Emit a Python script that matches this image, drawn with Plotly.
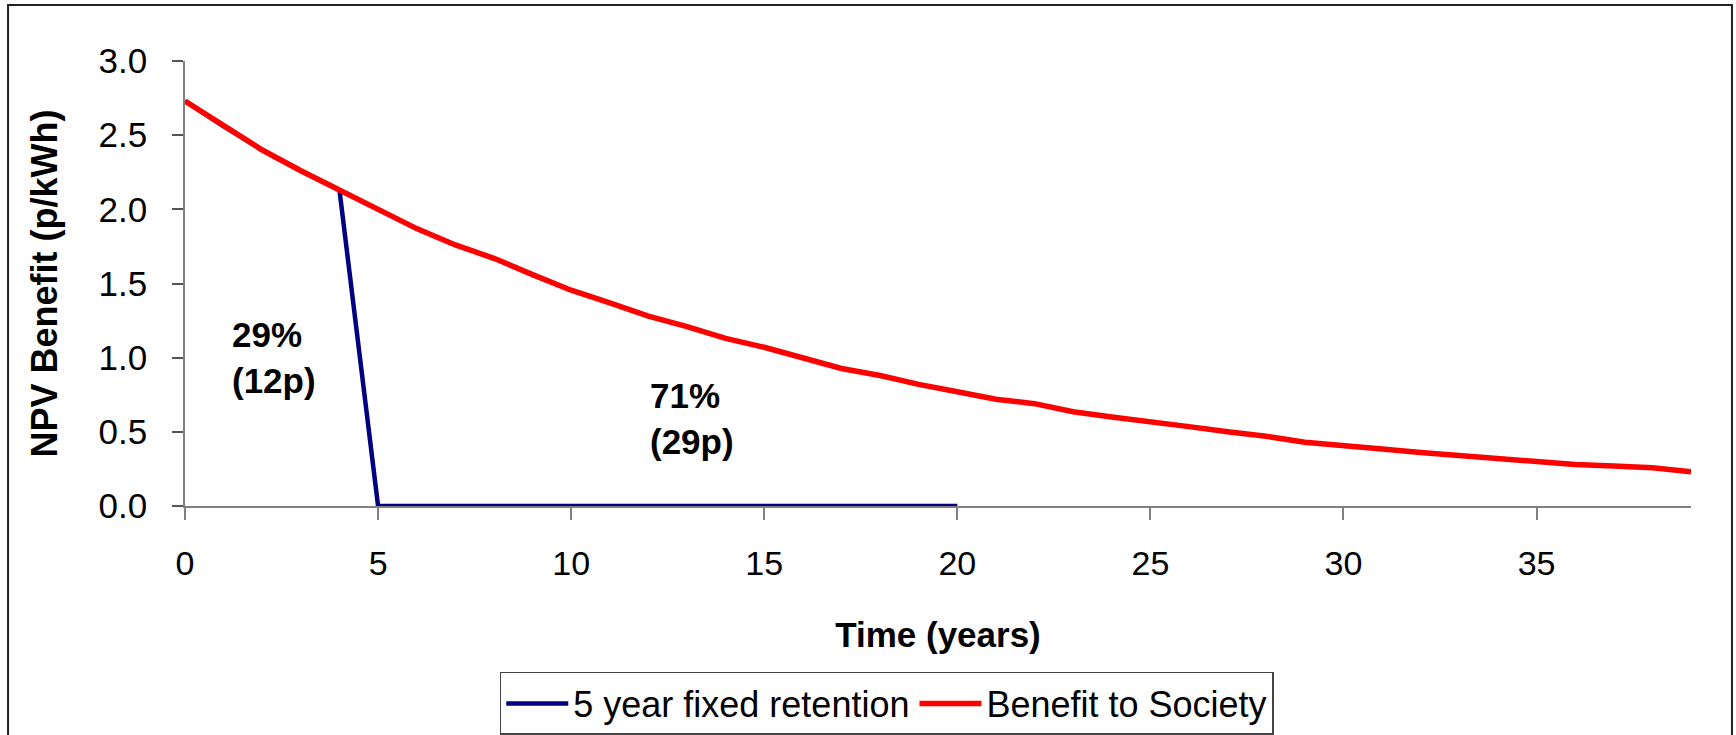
import plotly.graph_objects as go

# ---- data ----
years_society = list(range(0, 40))
benefit_society = [2.73, 2.56, 2.40, 2.26, 2.13, 1.99, 1.87, 1.76, 1.67, 1.56,
                   1.455, 1.37, 1.28, 1.21, 1.13, 1.07, 1.00, 0.927, 0.88, 0.82,
                   0.77, 0.72, 0.69, 0.635, 0.60, 0.57, 0.535, 0.50, 0.47, 0.43,
                   0.41, 0.385, 0.36, 0.34, 0.325, 0.30, 0.28, 0.27, 0.258, 0.23]

years_retention = list(range(0, 21))
benefit_retention = [2.73, 2.56, 2.40, 2.26, 2.13, 0, 0, 0, 0, 0,
                     0, 0, 0, 0, 0, 0, 0, 0, 0, 0, 0]

x_ticks = [0, 5, 10, 15, 20, 25, 30, 35]
y_ticks = [0.0, 0.5, 1.0, 1.5, 2.0, 2.5, 3.0]

label_left = "<b>29%<br>(12p)</b>"
label_right = "<b>71%<br>(29p)</b>"

FONT = "Liberation Sans, Arial, sans-serif"

fig = go.Figure()
fig.add_trace(go.Scatter(x=years_retention, y=benefit_retention, mode="lines",
                         name="5 year fixed retention",
                         line=dict(color="#000080", width=4.5)))
fig.add_trace(go.Scatter(x=years_society, y=benefit_society, mode="lines",
                         name="Benefit to Society",
                         line=dict(color="#FF0000", width=5.5)))

fig.add_annotation(x=1.17, y=1.0, xref="x", yref="y", text=label_left,
                   showarrow=False, xanchor="left", yanchor="middle", align="left",
                   font=dict(family=FONT, size=35, color="black"))
fig.add_annotation(x=12.0, y=0.59, xref="x", yref="y", text=label_right,
                   showarrow=False, xanchor="left", yanchor="middle", align="left",
                   font=dict(family=FONT, size=35, color="black"))

# outer chart border
fig.add_shape(type="rect", xref="paper", yref="paper",
              x0=-0.1175, x1=1.0272, y0=-0.62, y1=1.1258,
              line=dict(color="#222222", width=2), layer="below")

fig.update_layout(
    width=1736, height=735,
    margin=dict(l=185, r=45, t=61, b=229, autoexpand=False),
    paper_bgcolor="white", plot_bgcolor="white",
    font=dict(family=FONT, color="black"),
    showlegend=True,
    legend=dict(orientation="h", x=0.209, y=-0.373, xanchor="left", yanchor="top",
                bordercolor="#444444", borderwidth=1.5, bgcolor="white",
                font=dict(family=FONT, size=36, color="black"),
                traceorder="normal", itemwidth=62),
)

fig.update_xaxes(range=[0, 39], tickvals=x_ticks, ticks="outside", ticklen=12,
                 tickwidth=2, tickcolor="#808080", showline=True, linecolor="#808080",
                 linewidth=2, showgrid=False, zeroline=False,
                 tickfont=dict(family=FONT, size=34, color="black"),
                 ticklabelstandoff=14,
                 title=dict(text="<b>Time (years)</b>", standoff=42,
                            font=dict(family=FONT, size=35, color="black")))
fig.update_yaxes(range=[0, 3], tickvals=y_ticks, tickformat=".1f", ticks="outside",
                 ticklen=11, tickwidth=1.5, tickcolor="#555555", showline=True,
                 linecolor="#808080", linewidth=1.5, showgrid=False, zeroline=False,
                 tickfont=dict(family=FONT, size=35, color="black"),
                 ticklabelstandoff=18,
                 title=dict(text="<b>NPV Benefit (p/kWh)</b>", standoff=30,
                            font=dict(family=FONT, size=36, color="black")))

fig.write_html("out.html", config={"displayModeBar": False},
               post_script="document.body.style.margin='0';document.body.style.overflow='hidden';")
